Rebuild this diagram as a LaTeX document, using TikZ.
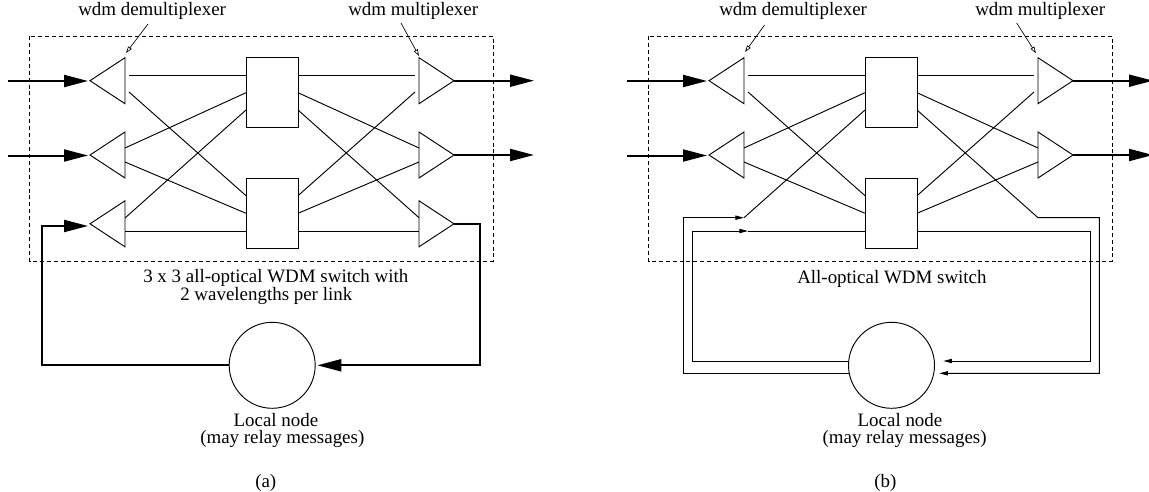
\documentclass[tikz,border=0pt]{standalone}
\usepackage{fontspec}
\setmainfont{Liberation Serif}
\usetikzlibrary{arrows.meta}
\tikzset{
  thinline/.style={line width=0.7pt},
  thickline/.style={line width=1.5pt},
  bigarrow/.style={thickline,-{Triangle[length=18pt,width=9pt]}},
  smallarrow/.style={thinline,-{Triangle[length=6.5pt,width=3.2pt]}},
  pointer/.style={line width=0.5pt,-{Triangle[open,length=5pt,width=3.2pt]}},
  frame/.style={line width=0.6pt,dash pattern=on 3pt off 2.2pt},
  lbl/.style={font=\fontsize{14.2}{13}\selectfont,inner sep=0pt,anchor=base west},
  switchbox/.style={draw,thinline,rectangle,inner sep=0pt,minimum width=39pt,minimum height=52.2pt},
  localnode/.style={draw,thinline,circle,inner sep=0pt,minimum size=64.5pt},
}
\newcommand\demuxtri[2]{\coordinate (#1) at (90,#2); \draw[thinline] (125,#2-23) -- (#1) -- (125,#2+23) -- cycle;}
\newcommand\muxtri[2]{\coordinate (#1) at (454,#2); \draw[thinline] (419,#2-23) -- (#1) -- (419,#2+23) -- cycle;}
\newcommand\switchcore{%
  \draw[frame] (29.5,36) rectangle (493.3,261.5);
  \demuxtri{D1}{80.7}
  \demuxtri{D2}{155}
  \muxtri{M1}{80.7}
  \muxtri{M2}{155}
  \node[switchbox] (B1) at (272,92.5) {};
  \node[switchbox] (B2) at (272,213.65) {};
  \coordinate (B1l1) at (246,75);    \coordinate (B1r1) at (298,75);
  \coordinate (B1l2) at (246,92.7);  \coordinate (B1r2) at (298,92.7);
  \coordinate (B1l3) at (246,110);   \coordinate (B1r3) at (298,110);
  \coordinate (B2l1) at (246,195.7); \coordinate (B2r1) at (298,195.7);
  \coordinate (B2l2) at (246,213.3); \coordinate (B2r2) at (298,213.3);
  \coordinate (B2l3) at (246,231);   \coordinate (B2r3) at (298,231);
  \coordinate (D1a) at (129,75);  \coordinate (D1b) at (129,92);
  \coordinate (D2a) at (125,148); \coordinate (D2b) at (125,162);
  \coordinate (M1a) at (415,75);  \coordinate (M1b) at (415,92);
  \coordinate (M2a) at (419,148); \coordinate (M2b) at (419,162);
  \draw[thinline] (D1a) -- (B1l1);
  \draw[thinline] (D1b) -- (B2l1);
  \draw[thinline] (D2a) -- (B1l2);
  \draw[thinline] (D2b) -- (B2l2);
  \draw[thinline] (B1r1) -- (M1a);
  \draw[thinline] (B2r1) -- (M1b);
  \draw[thinline] (B1r2) -- (M2a);
  \draw[thinline] (B2r2) -- (M2b);
  \coordinate (I1) at (8,81);    \coordinate (I1t) at (88,81);
  \coordinate (I2) at (8,155.5); \coordinate (I2t) at (88,155.5);
  \coordinate (O1) at (534,80.7); \coordinate (O2) at (534,155);
  \draw[bigarrow] (I1) -- (I1t);
  \draw[bigarrow] (I2) -- (I2t);
  \draw[bigarrow] (M1) -- (O1);
  \draw[bigarrow] (M2) -- (O2);
}
\begin{document}
\begin{tikzpicture}[x=0.75pt,y=-0.75pt]
\useasboundingbox (0,0) rectangle (1149,492);
% ---------------- panel (a) ----------------
\begin{scope}[name prefix=a-]
  \switchcore
  \demuxtri{D3}{223.8}
  \muxtri{M3}{223.8}
  \coordinate (D3a) at (125,218); \coordinate (D3b) at (125,231);
  \coordinate (M3a) at (419,217.7); \coordinate (M3b) at (419,231);
  \draw[thinline] (D3a) -- (B1l3);
  \draw[thinline] (D3b) -- (B2l3);
  \draw[thinline] (B1r3) -- (M3a);
  \draw[thinline] (B2r3) -- (M3b);
  \node[localnode] (C) at (272.2,365.3) {};
  \coordinate (Rt) at (480,223.8); \coordinate (Rb) at (480,365.3); \coordinate (Ce) at (317.3,365.3);
  \draw[bigarrow] (M3) -- (Rt) -- (Rb) -- (Ce);
  \coordinate (Lb) at (42,365.3); \coordinate (Lt) at (42,226); \coordinate (D3t) at (88,226);
  \draw[bigarrow] (C.west) -- (Lb) -- (Lt) -- (D3t);
  \node[lbl] (t1) at (78,16) {wdm demultiplexer};
  \node[lbl] (t2) at (348,16) {wdm multiplexer};
  \coordinate (pd0) at (148,24); \coordinate (pd1) at (126,53);
  \coordinate (pm0) at (401,23); \coordinate (pm1) at (419,56);
  \draw[pointer] (pd0) -- (pd1);
  \draw[pointer] (pm0) -- (pm1);
  \node[lbl] (t3) at (143,282.7) {3 x 3 all-optical WDM switch with};
  \node[lbl] (t4) at (180,300) {2 wavelengths per link};
  \node[lbl] (t5) at (233.3,426) {Local node};
  \node[lbl] (t6) at (200,443) {(may relay messages)};
  \node[lbl] (t7) at (255,487) {(a)};
\end{scope}
% ---------------- panel (b) ----------------
\begin{scope}[xshift=464.25pt,name prefix=b-]
  \switchcore
  \node[localnode] (C) at (272.5,365.3) {};
  \coordinate (OLc) at (230.3,373.3); \coordinate (OLb) at (64.3,373.3);
  \coordinate (OLt) at (64.3,217.7);  \coordinate (OLe) at (125,217.7);
  \draw[smallarrow] (OLc) -- (OLb) -- (OLt) -- (OLe);
  \draw[thinline] (OLe) -- (B1l3);
  \coordinate (ILc) at (229.7,361); \coordinate (ILb) at (73,361);
  \coordinate (ILt) at (73,231);    \coordinate (ILe) at (129,231);
  \draw[smallarrow] (ILc) -- (ILb) -- (ILt) -- (ILe);
  \draw[thinline] (ILe) -- (B2l3);
  \coordinate (ORk) at (419,217.7); \coordinate (ORt) at (480.3,217.7);
  \coordinate (ORb) at (480.3,373.3); \coordinate (ORe) at (320.3,373.3);
  \draw[smallarrow] (B1r3) -- (ORk) -- (ORt) -- (ORb) -- (ORe);
  \coordinate (IRt) at (471.7,231); \coordinate (IRb) at (471.7,361); \coordinate (IRe) at (324.3,361);
  \draw[smallarrow] (B2r3) -- (IRt) -- (IRb) -- (IRe);
  \node[lbl] (t1) at (100,16) {wdm demultiplexer};
  \node[lbl] (t2) at (356,16) {wdm multiplexer};
  \coordinate (pd0) at (145.6,25); \coordinate (pd1) at (126,52);
  \coordinate (pm0) at (397.7,23); \coordinate (pm1) at (417,53.3);
  \draw[pointer] (pd0) -- (pd1);
  \draw[pointer] (pm0) -- (pm1);
  \node[lbl] (t3) at (178,283.3) {All-optical WDM switch};
  \node[lbl] (t5) at (238.4,426) {Local node};
  \node[lbl] (t6) at (203.3,443) {(may relay messages)};
  \node[lbl] (t7) at (255,487) {(b)};
\end{scope}
\end{tikzpicture}
\end{document}
